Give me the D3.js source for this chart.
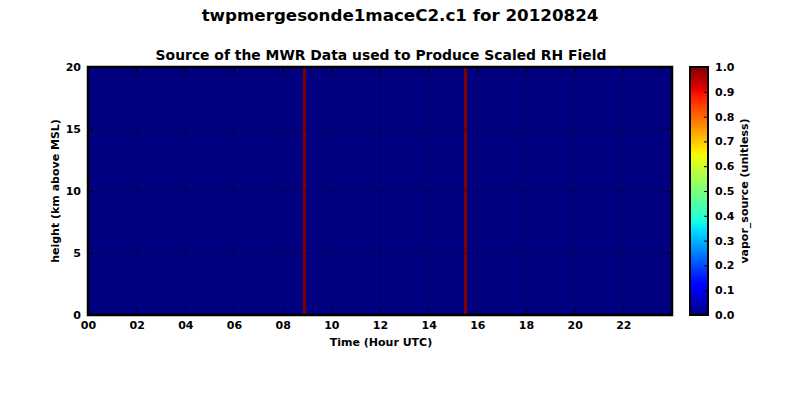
<!DOCTYPE html>
<html><head><meta charset="utf-8">
<script src="https://cdn.jsdelivr.net/npm/d3@7"></script>
<style>body{margin:0;background:#fff}svg{display:block}text{font-family:"DejaVu Sans",sans-serif;font-weight:bold}</style>
</head><body><svg id="c" width="800" height="400"></svg>
<script>
// Data
const segStart = [0, 8.84, 8.96, 15.45, 15.58];
const segEnd   = [8.84, 8.96, 15.45, 15.58, 24];
const segValue = [0, 1, 0, 1, 0];
const xTicks = [0,2,4,6,8,10,12,14,16,18,20,22];
const xTickLabels = ["00","02","04","06","08","10","12","14","16","18","20","22"];
const yTicks = [0,5,10,15,20];
const cbTicks = [0,0.1,0.2,0.3,0.4,0.5,0.6,0.7,0.8,0.9,1.0];

function jetCh(pts, t){
  for(let i=1;i<pts.length;i++){
    if(t<=pts[i][0]){const [x0,y0]=pts[i-1],[x1,y1]=pts[i];return y0+(y1-y0)*(t-x0)/(x1-x0);}
  }
  return pts[pts.length-1][1];
}
const R=[[0,0],[0.35,0],[0.66,1],[0.89,1],[1,0.5]];
const G=[[0,0],[0.125,0],[0.375,1],[0.64,1],[0.91,0],[1,0]];
const B=[[0,0.5],[0.11,1],[0.34,1],[0.65,0],[1,0]];
function jet(t){return d3.rgb(255*jetCh(R,t),255*jetCh(G,t),255*jetCh(B,t)).toString();}

const svg=d3.select("#c");
const L=88,Rr=672,T=67,Bt=315;
const x=d3.scaleLinear().domain([0,24]).range([L,Rr]);
const y=d3.scaleLinear().domain([0,20]).range([Bt,T]);

svg.append("text").attr("x",400).attr("y",21).attr("text-anchor","middle").attr("font-size",16.7).text("twpmergesonde1maceC2.c1 for 20120824");
svg.append("text").attr("x",381).attr("y",60).attr("text-anchor","middle").attr("font-size",13.9).text("Source of the MWR Data used to Produce Scaled RH Field");

svg.selectAll("rect.seg").data(segValue).enter().append("rect")
  .attr("x",(d,i)=>x(segStart[i])).attr("width",(d,i)=>x(segEnd[i])-x(segStart[i]))
  .attr("y",y(20)).attr("height",y(0)-y(20)).attr("fill",d=>jet(d)).attr("shape-rendering","crispEdges");

// grid
const g=svg.append("g");
g.selectAll("line.gx").data(xTicks.slice(1)).enter().append("line")
  .attr("x1",d=>x(d)).attr("x2",d=>x(d)).attr("y1",T).attr("y2",Bt)
  .attr("stroke","#000").attr("stroke-width",1).attr("stroke-dasharray","1,3");
g.selectAll("line.gy").data(yTicks.slice(1,-1)).enter().append("line")
  .attr("y1",d=>y(d)).attr("y2",d=>y(d)).attr("x1",L).attr("x2",Rr)
  .attr("stroke","#000").attr("stroke-width",1).attr("stroke-dasharray","1,3");

// axes
const xa=svg.append("g").attr("transform",`translate(0,${Bt})`)
  .call(d3.axisBottom(x).tickValues(xTicks).tickFormat((d,i)=>xTickLabels[i]).tickSizeInner(-5).tickSizeOuter(0).tickPadding(6));
const xaT=svg.append("g").attr("transform",`translate(0,${T})`)
  .call(d3.axisTop(x).tickValues(xTicks).tickFormat("").tickSizeInner(-5).tickSizeOuter(0));
const ya=svg.append("g").attr("transform",`translate(${L},0)`)
  .call(d3.axisLeft(y).tickValues(yTicks).tickSizeInner(-5).tickSizeOuter(0).tickPadding(7));
const yaR=svg.append("g").attr("transform",`translate(${Rr},0)`)
  .call(d3.axisRight(y).tickValues(yTicks).tickFormat("").tickSizeInner(-5).tickSizeOuter(0));
[xa,xaT,ya,yaR].forEach(a=>{a.select(".domain").remove();a.selectAll("text").attr("font-size",11).attr("fill","#000");a.selectAll("line").attr("stroke","#000");});
svg.append("rect").attr("x",L).attr("y",T).attr("width",Rr-L).attr("height",Bt-T)
  .attr("fill","none").attr("stroke","#000").attr("stroke-width",2.5);

svg.append("text").attr("x",381).attr("y",346).attr("text-anchor","middle").attr("font-size",11).text("Time (Hour UTC)");
svg.append("text").attr("transform","translate(59,191) rotate(-90)").attr("text-anchor","middle").attr("font-size",11).text("height (km above MSL)");

// colorbar
const cL=690,cR=708;
const cy=d3.scaleLinear().domain([0,1]).range([Bt,T]);
const defs=svg.append("defs");
const grad=defs.append("linearGradient").attr("id","jet").attr("x1",0).attr("y1",1).attr("x2",0).attr("y2",0);
d3.range(0,1.0001,0.01).forEach(t=>grad.append("stop").attr("offset",t).attr("stop-color",jet(t)));
svg.append("rect").attr("x",cL).attr("y",T).attr("width",cR-cL).attr("height",Bt-T).attr("fill","url(#jet)");
const ca=svg.append("g").attr("transform",`translate(${cR},0)`)
  .call(d3.axisRight(cy).tickValues(cbTicks).tickFormat(d3.format(".1f")).tickSizeInner(-4).tickSizeOuter(0).tickPadding(7));
ca.select(".domain").remove();ca.selectAll("text").attr("font-size",11).attr("fill","#000");ca.selectAll("line").attr("stroke","#000");
svg.append("rect").attr("x",cL).attr("y",T).attr("width",cR-cL).attr("height",Bt-T).attr("fill","none").attr("stroke","#000").attr("stroke-width",2);
svg.append("text").attr("transform","translate(748,191) rotate(-90)").attr("text-anchor","middle").attr("font-size",11).text("vapor_source (unitless)");
</script></body></html>
